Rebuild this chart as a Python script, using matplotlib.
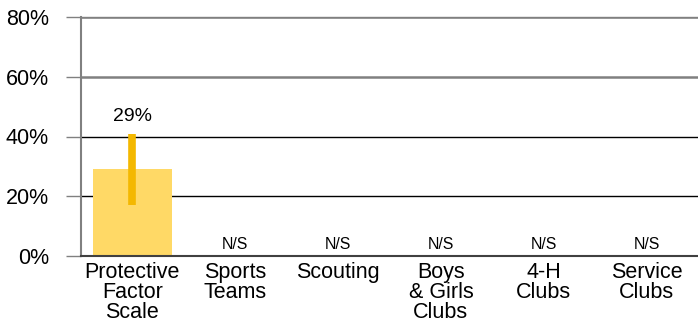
import matplotlib
matplotlib.use("Agg")
import matplotlib.pyplot as plt
import numpy as np

plt.rcParams['font.family'] = ['Liberation Sans', 'DejaVu Sans']

# data
categories = ['Protective\nFactor\nScale', 'Sports\nTeams', 'Scouting',
              'Boys\n& Girls\nClubs', '4-H\nClubs', 'Service\nClubs']
values = [29, 0, 0, 0, 0, 0]
err_low = [17, None, None, None, None, None]
err_high = [41, None, None, None, None, None]
bar_labels = ['29%', 'N/S', 'N/S', 'N/S', 'N/S', 'N/S']
yticks = [0, 20, 40, 60, 80]

fig = plt.figure(figsize=(6.98, 3.23), dpi=100)
ax = fig.add_axes([81 / 698, 1 - 256 / 323, 1 - 81 / 698, (256 - 17) / 323])

x = np.arange(len(categories))
ax.set_xlim(-0.5, len(categories) - 0.5)
ax.set_ylim(0, 80)

# gridlines (upper ones grey, lower ones black like the original)
for yv in yticks[1:]:
    col = '#808080' if yv >= 60 else 'black'
    lw = 1.8 if yv >= 60 else 1.0
    ax.axhline(yv, color=col, lw=lw, zorder=0)

for i, v in enumerate(values):
    if v > 0:
        ax.bar(x[i], v, width=0.77, color='#FFD966', zorder=2)
        ax.plot([x[i], x[i]], [err_low[i], err_high[i]], color='#F4B800',
                lw=5.5, solid_capstyle='butt', zorder=3)
        ax.text(x[i], err_high[i] + 3, bar_labels[i], ha='center', va='bottom', fontsize=14)
    else:
        ax.text(x[i], 1.2, bar_labels[i], ha='center', va='bottom', fontsize=11.4)

ax.set_xticks(x)
ax.set_xticklabels(categories, fontsize=15.5, linespacing=0.96)
ax.tick_params(axis='x', length=0, pad=4)
ax.set_yticks(yticks)
ax.set_yticklabels([str(t) + '%' for t in yticks], fontsize=15.5)
ax.tick_params(axis='y', length=11, width=1, color='#808080', pad=12)

ax.spines['right'].set_visible(False)
ax.spines['left'].set_color('#808080')
ax.spines['left'].set_linewidth(1.5)
ax.spines['top'].set_color('#808080')
ax.spines['top'].set_linewidth(1.0)
ax.spines['bottom'].set_color('#404040')
ax.spines['bottom'].set_linewidth(1.5)

fig.savefig('out.png', dpi=100)
